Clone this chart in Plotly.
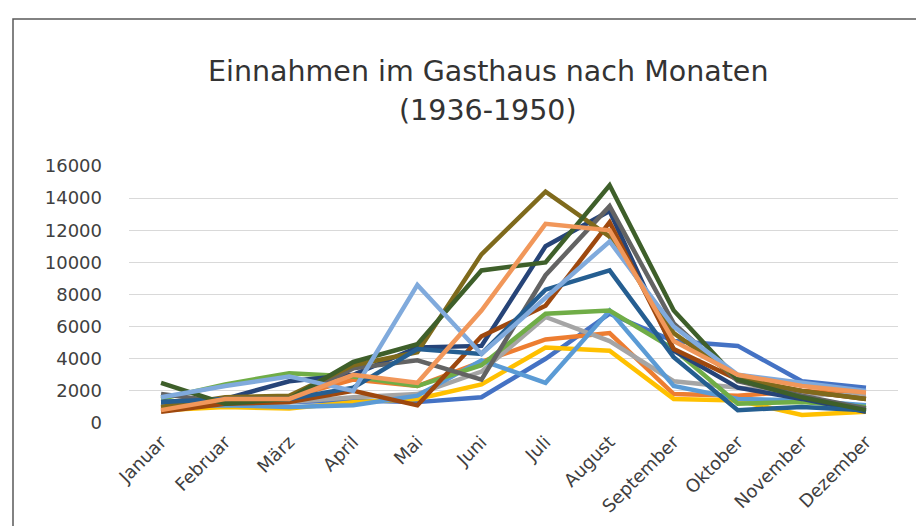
import plotly.graph_objects as go

months = ["Januar", "Februar", "März", "April", "Mai", "Juni", "Juli",
          "August", "September", "Oktober", "November", "Dezember"]

s01 = [1200, 1300, 1300, 1400, 1300, 1600, 4000, 6800, 5100, 4800, 2600, 2200]
s02 = [900, 1400, 1600, 2700, 2300, 3800, 5200, 5600, 1800, 1700, 2000, 1800]
s03 = [1000, 1200, 1300, 1600, 1800, 3200, 6600, 5100, 2600, 2200, 1800, 1700]
s04 = [800, 1000, 900, 1300, 1500, 2400, 4700, 4500, 1500, 1400, 500, 700]
s05 = [1000, 1100, 1000, 1100, 1700, 3900, 2500, 7000, 2300, 1500, 1400, 1100]
s06 = [1500, 2400, 3100, 2900, 2300, 3600, 6800, 7000, 4600, 1200, 1300, 1000]
s07 = [1300, 1500, 2600, 3000, 4700, 4800, 11000, 13200, 4500, 2200, 1500, 700]
s08 = [700, 1200, 1300, 2000, 1100, 5400, 7300, 12500, 4600, 2700, 2000, 1500]
s09 = [1800, 1300, 1500, 3400, 3900, 2700, 9200, 13500, 6200, 2600, 1700, 900]
s10 = [1000, 1600, 1700, 3600, 4400, 10500, 14400, 11600, 5600, 2800, 2000, 1500]
s11 = [1300, 1500, 1500, 2200, 4600, 4300, 8300, 9500, 4100, 800, 1000, 800]
s12 = [2500, 1200, 1500, 3800, 4900, 9500, 10000, 14800, 7000, 2700, 1600, 800]
s13 = [1600, 2300, 2900, 2000, 8600, 4300, 7800, 11300, 6000, 3000, 2500, 2000]
s14 = [800, 1500, 1500, 3000, 2500, 7000, 12400, 12000, 5100, 3000, 2300, 1900]

series = [s01, s02, s03, s04, s05, s06, s07, s08, s09, s10, s11, s12, s13, s14]
colors = ["#4472C4", "#ED7D31", "#A5A5A5", "#FFC000", "#5B9BD5", "#70AD47",
          "#264478", "#9E480E", "#636363", "#7F6A1C", "#255E91", "#3E5F2A",
          "#80AADC", "#F1975A"]
y_ticks = [0, 2000, 4000, 6000, 8000, 10000, 12000, 14000, 16000]
y_labels = [str(v) for v in y_ticks]

FONT = "DejaVu Sans"

fig = go.Figure()
for vals, col in zip(series, colors):
    fig.add_trace(go.Scatter(x=months, y=vals, mode="lines",
                             line=dict(color=col, width=4.5),
                             showlegend=False, hoverinfo="skip"))

L, R, T, B = 121, 34, 158, 111
fig.update_layout(
    width=924, height=526,
    margin=dict(l=L, r=R, t=T, b=B),
    paper_bgcolor="white", plot_bgcolor="white",
    font=dict(family=FONT, color="#404040"),
    xaxis=dict(type="category", showgrid=False, zeroline=False, showline=False,
               tickangle=-45, tickfont=dict(size=18, color="#404040"),
               ticks="", range=[-0.5, 11.5], ticklabelstandoff=4),
    yaxis=dict(range=[0, 16000], tickvals=y_ticks, ticktext=y_labels, showgrid=True,
               gridcolor="#D9D9D9", gridwidth=1, zeroline=False, showline=False,
               tickfont=dict(size=18, color="#404040"), ticks="",
               ticklabelstandoff=26),
)

pw, ph = 924 - L - R, 526 - T - B
def px(x):
    return (x - L) / pw
def py(y):
    return (526 - B - y) / ph

fig.add_shape(type="rect", xref="paper", yref="paper",
              x0=px(5), x1=px(940), y0=py(540), y1=py(11),
              line=dict(color="#595959", width=1.5), layer="below")

fig.add_annotation(text="Einnahmen im Gasthaus nach Monaten", xref="paper", yref="paper",
                   x=px(480), y=py(63), showarrow=False, xanchor="center", yanchor="middle",
                   font=dict(size=28.5, family=FONT, color="#333333"))
fig.add_annotation(text="(1936-1950)", xref="paper", yref="paper",
                   x=px(480), y=py(102), showarrow=False, xanchor="center", yanchor="middle",
                   font=dict(size=28.5, family=FONT, color="#333333"))

fig.write_html("out.html")
